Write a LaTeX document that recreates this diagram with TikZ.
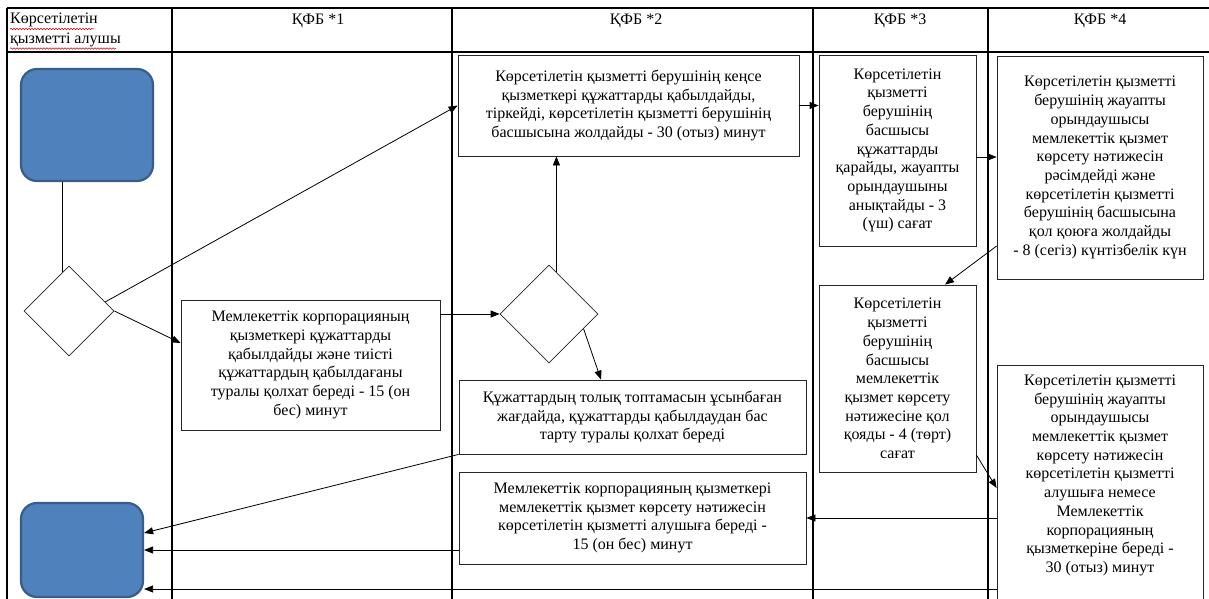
\documentclass[tikz,border=0pt]{standalone}
\usepackage{fontspec}
\setmainfont{Liberation Serif}
\usetikzlibrary{calc}
\usetikzlibrary{shapes.geometric,arrows.meta,decorations.pathmorphing}

\definecolor{termblue}{HTML}{4F81BD}
\definecolor{termedge}{HTML}{385D8A}

\begin{document}
\begin{tikzpicture}[x=1pt,y=-1pt,
  lane/.style={line width=1.1pt},
  box/.style={draw=black!85,line width=0.8pt,align=center,inner sep=0pt,font=\fontsize{16}{18.7}\selectfont},
  hd/.style={font=\fontsize{16}{18}\selectfont,inner sep=0pt},
  dec/.style={draw=black!85,line width=0.8pt,diamond,inner sep=0pt,minimum width=#1,minimum height=#1},
  term/.style={draw=termedge,fill=termblue,line width=2.2pt,rounded corners=16pt},
  flow/.style={line width=0.8pt,-{Triangle[length=9pt,width=7pt]}},
  spell/.style={red!85!black,line width=0.5pt,decorate,decoration={snake,amplitude=0.8pt,segment length=3pt}}]
\path[use as bounding box,fill=white] (0,0) rectangle (1209,599);
\clip (0,0) rectangle (1209,599);

% swimlanes
\draw[lane] (7,8) -- (1215,8);
\draw[lane] (7,52) -- (1215,52);
\foreach \x in {7,172,452,813,988} {
\draw[lane] (\x,8) -- (\x,610);
}
\node[hd,anchor=north west,align=left] (h0) at (10,13) {Көрсетілетін\\[2pt]қызметті алушы};
\draw[spell] (10,29) -- (94,29);
\draw[spell] (10,48.5) -- (116,48.5);
\node[hd] (h1) at (318,21) {ҚФБ *1};
\node[hd] (h2) at (636,21) {ҚФБ *2};
\node[hd] (h3) at (900,21) {ҚФБ *3};
\node[hd] (h4) at (1100,21) {ҚФБ *4};

% service recipient
\node[term,minimum width=132,minimum height=112] (start) at (87,125) {};
\node[term,minimum width=122,minimum height=94] (finish) at (82,550) {};
\node[dec=90] (d1) at (69,311) {};
\node[dec=98] (d2) at (549,314) {};

% process steps
\node[box,minimum width=259,minimum height=130] (k1) at (310.5,365)
 {Мемлекеттік корпорацияның\\қызметкері құжаттарды\\қабылдайды және тиісті\\құжаттардың қабылдағаны\\туралы қолхат береді - 15 (он\\бес) минут};
\node[box,minimum width=341,minimum height=101] (k2a) at (628.5,105.5)
 {Көрсетілетін қызметті берушінің кеңсе\\қызметкері құжаттарды қабылдайды,\\тіркейді, көрсетілетін қызметті берушінің\\басшысына жолдайды - 30 (отыз) минут};
\node[box,minimum width=347,minimum height=74] (k2b) at (632.5,417)
 {Құжаттардың толық топтамасын ұсынбаған\\жағдайда, құжаттарды қабылдаудан бас\\тарту туралы қолхат береді};
\node[box,minimum width=347,minimum height=92] (k2c) at (632.5,518)
 {Мемлекеттік корпорацияның қызметкері\\мемлекеттік қызмет көрсету нәтижесін\\көрсетілетін қызметті алушыға береді -\\15 (он бес) минут};
\node[box,minimum width=157,minimum height=191] (k3a) at (897.5,150.5)
 {Көрсетілетін\\қызметті\\берушінің\\басшысы\\құжаттарды\\қарайды, жауапты\\орындаушыны\\анықтайды - 3\\(үш) сағат};
\node[box,minimum width=157,minimum height=187] (k3b) at (897.5,378.5)
 {Көрсетілетін\\қызметті\\берушінің\\басшысы\\мемлекеттік\\қызмет көрсету\\нәтижесіне қол\\қояды - 4 (төрт)\\сағат};
\node[box,minimum width=206,minimum height=223] (k4a) at (1100,167.5)
 {Көрсетілетін қызметті\\берушінің жауапты\\орындаушысы\\мемлекеттік қызмет\\көрсету нәтижесін\\рәсімдейді және\\көрсетілетін қызметті\\берушінің басшысына\\қол қоюға жолдайды\\- 8 (сегіз) күнтізбелік күн};
\node[box,minimum width=206,minimum height=236] (k4b) at (1100,483)
 {Көрсетілетін қызметті\\берушінің жауапты\\орындаушысы\\мемлекеттік қызмет\\көрсету нәтижесін\\көрсетілетін қызметті\\алушыға немесе\\Мемлекеттік\\корпорацияның\\қызметкеріне береді -\\30 (отыз) минут\\\mbox{}};

% connectors
\coordinate (d1a) at ($(d1.north)!0.15!(d1.west)$);
\coordinate (d1b) at ($(d1.east)!0.2!(d1.north)$);
\coordinate (d2a) at ($(d2.north)!0.15!(d2.east)$);
\coordinate (d2b) at ($(d2.east)!0.3!(d2.south)$);
\draw[line width=0.8pt] (d1a |- start.south) -- (d1a);
\draw[flow] (d1b) -- (k2a.west);
\draw[flow] (d1.east) -- (k1.west |- 0,343);
\draw[flow] (k1.east |- d2.west) -- (d2.west);
\draw[flow] (d2a) -- (d2a |- k2a.south);
\draw[flow] (d2b) -- (k2b.north -| 601,0);
\draw[flow] (k2a.east) -- (k3a.west |- k2a.east);
\draw[flow] (k3a.east |- 0,157) -- (k4a.west |- 0,157);
\draw[flow] (k4a.west |- 0,246) -- (k3b.north -| 945,0);
\draw[flow] (k3b.east |- 0,455) -- (k4b.west |- 0,488);
\draw[flow] (k4b.west |- k2c.east) -- (k2c.east);
\draw[flow] (k2b.south west) -- (finish.east |- 0,533);
\draw[flow] (k2c.west |- 0,550) -- (finish.east |- 0,550);
\draw[flow] (k4b.west |- 0,589) -- (finish.east |- 0,589);
\end{tikzpicture}
\end{document}
